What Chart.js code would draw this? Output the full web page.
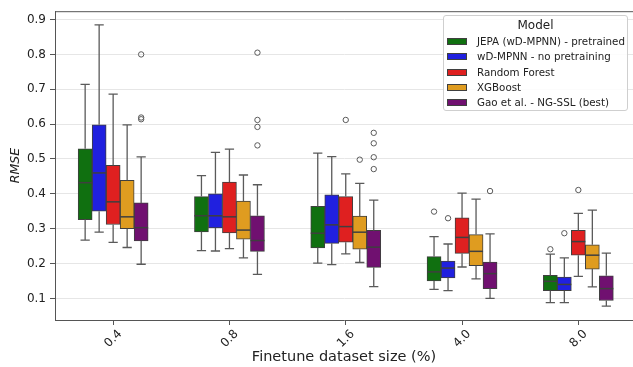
<!DOCTYPE html>
<html>
<head>
<meta charset="utf-8">
<script src="https://cdn.jsdelivr.net/npm/chart.js@4.4.1/dist/chart.umd.min.js"></script>
<style>
  html, body { margin: 0; padding: 0; background: #fff; }
  #wrap { position: relative; width: 633px; height: 367px; overflow: hidden; }
  #legend {
    position: absolute; left: 443px; top: 15px; width: 185px; height: 96px;
    border: 1px solid #cfcfcf; border-radius: 3px; background: rgba(255,255,255,0.85);
    font-family: "DejaVu Sans", sans-serif; color: #222; box-sizing: border-box;
  }
  #legend .ttl { position: absolute; left: 0; width: 100%; top: 2px; text-align: center; font-size: 12px; line-height: 15px; }
  #legend .row { position: absolute; left: 0; width: 100%; height: 15px; font-size: 10.3px; line-height: 15px; white-space: nowrap; }
  #legend .patch { position: absolute; left: 3px; top: 4px; width: 20px; height: 7px; border: 1px solid #3f3f3f; box-sizing: border-box; }
  #legend .txt { position: absolute; left: 33px; top: 0; }
</style>
</head>
<body>
<div id="wrap">
  <canvas id="myChart" width="633" height="367"></canvas>
  <div id="legend"></div>
</div>
<script>
// finetune dataset sizes (%)
const sizes = ["0.4", "0.8", "1.6", "4.0", "8.0"]
const yTicks = [0.1, 0.2, 0.3, 0.4, 0.5, 0.6, 0.7, 0.8, 0.9]

const modelNames = ["JEPA (wD-MPNN) - pretrained", "wD-MPNN - no pretraining", "Random Forest", "XGBoost", "Gao et al. - NG-SSL (best)"]
const modelColors = ["#107010", "#2020df", "#df2020", "#df9c20", "#701070"]

// each row: [whisker low, q1, median, q3, whisker high], one per dataset size
const jepaStats = [
  [0.267, 0.326, 0.432, 0.529, 0.714],
  [0.237, 0.291, 0.337, 0.392, 0.452],
  [0.201, 0.245, 0.287, 0.364, 0.517],
  [0.126, 0.150, 0.176, 0.220, 0.277],
  [0.088, 0.122, 0.149, 0.166, 0.227]
]
const mpnnStats = [
  [0.290, 0.350, 0.460, 0.598, 0.885],
  [0.236, 0.302, 0.337, 0.400, 0.519],
  [0.197, 0.258, 0.311, 0.397, 0.507],
  [0.122, 0.159, 0.187, 0.207, 0.256],
  [0.088, 0.122, 0.140, 0.161, 0.216]
]
const rfStats = [
  [0.261, 0.312, 0.377, 0.482, 0.686],
  [0.243, 0.288, 0.334, 0.434, 0.528],
  [0.228, 0.261, 0.306, 0.392, 0.457],
  [0.190, 0.229, 0.275, 0.331, 0.402],
  [0.163, 0.224, 0.263, 0.295, 0.344]
]
const xgbStats = [
  [0.246, 0.300, 0.334, 0.439, 0.598],
  [0.216, 0.270, 0.296, 0.379, 0.454],
  [0.203, 0.241, 0.290, 0.336, 0.430],
  [0.156, 0.194, 0.235, 0.283, 0.385],
  [0.133, 0.184, 0.224, 0.254, 0.353]
]
const gaoStats = [
  [0.198, 0.265, 0.303, 0.374, 0.506],
  [0.169, 0.235, 0.266, 0.337, 0.426],
  [0.134, 0.189, 0.247, 0.295, 0.382],
  [0.100, 0.128, 0.171, 0.204, 0.285],
  [0.078, 0.094, 0.128, 0.165, 0.230]
]

// outliers per dataset size
const jepaOut = [[], [], [], [0.349], [0.241]]
const mpnnOut = [[], [], [], [0.330], [0.287]]
const rfOut = [[], [], [0.612], [], [0.411]]
const xgbOut = [[], [], [0.498], [], []]
const gaoOut = [[0.800, 0.619, 0.614], [0.805, 0.612, 0.592, 0.539], [0.575, 0.545, 0.505, 0.471], [0.408], []]

const allStats = [jepaStats, mpnnStats, rfStats, xgbStats, gaoStats]
const allOut = [jepaOut, mpnnOut, rfOut, xgbOut, gaoOut]

const edgeColor = "#3f3f3f"
const whiskerColor = "#5a5a5a"

// whiskers, medians and fliers on top of the floating bars
const boxExtras = {
  id: "boxExtras",
  afterDatasetsDraw(chart) {
    const ctx = chart.ctx
    const yScale = chart.scales.y
    ctx.save()
    allStats.forEach((stats, d) => {
      const meta = chart.getDatasetMeta(d)
      meta.data.forEach((bar, i) => {
        const s = stats[i]
        const x = bar.x
        const w = bar.width
        const yLo = yScale.getPixelForValue(s[0])
        const yQ1 = yScale.getPixelForValue(s[1])
        const yMed = yScale.getPixelForValue(s[2])
        const yQ3 = yScale.getPixelForValue(s[3])
        const yHi = yScale.getPixelForValue(s[4])
        ctx.strokeStyle = whiskerColor
        ctx.lineWidth = 1.3
        ctx.beginPath()
        ctx.moveTo(x, yQ3); ctx.lineTo(x, yHi)
        ctx.moveTo(x, yQ1); ctx.lineTo(x, yLo)
        ctx.moveTo(x - w * 0.33, yHi); ctx.lineTo(x + w * 0.33, yHi)
        ctx.moveTo(x - w * 0.33, yLo); ctx.lineTo(x + w * 0.33, yLo)
        ctx.stroke()
        ctx.strokeStyle = edgeColor
        ctx.lineWidth = 1.5
        ctx.beginPath()
        ctx.moveTo(x - w / 2, yMed); ctx.lineTo(x + w / 2, yMed)
        ctx.stroke()
        ctx.strokeStyle = whiskerColor
        ctx.lineWidth = 1
        allOut[d][i].forEach(v => {
          ctx.beginPath()
          ctx.arc(x, yScale.getPixelForValue(v), 2.7, 0, Math.PI * 2)
          ctx.stroke()
        })
      })
    })
    // top frame line
    const a = chart.chartArea
    ctx.strokeStyle = "#555"
    ctx.lineWidth = 1
    ctx.beginPath()
    ctx.moveTo(a.left, a.top + 0.5); ctx.lineTo(a.right, a.top + 0.5)
    ctx.stroke()
    ctx.restore()
  }
}

const datasets = modelNames.map((name, d) => ({
  label: name,
  data: allStats[d].map((s, i) => ({ x: i, y: [s[1], s[3]] })),
  backgroundColor: modelColors[d],
  borderColor: edgeColor,
  borderWidth: 1,
  borderSkipped: false,
  barThickness: 14
}))

const myChart = new Chart(document.getElementById("myChart"), {
  type: "bar",
  data: { datasets: datasets },
  options: {
    responsive: false,
    animation: false,
    layout: { padding: { top: 10, left: 0, right: 0, bottom: 0 } },
    plugins: { legend: { display: false }, tooltip: { enabled: false } },
    scales: {
      x: {
        type: "linear",
        offset: false,
        min: -0.5,
        max: 4.47,
        afterBuildTicks: (scale) => { scale.ticks = sizes.map((s, i) => ({ value: i })) },
        afterFit: (scale) => { scale.height = 47 },
        grid: { offset: false, drawOnChartArea: false, drawTicks: true, tickLength: 5, tickColor: "#555" },
        border: { display: true, color: "#555", width: 1 },
        ticks: {
          callback: (v) => sizes[v],
          minRotation: 45, maxRotation: 45,
          labelOffset: 7, padding: 2,
          color: "#222",
          font: { family: "DejaVu Sans", size: 12 }
        },
        title: {
          display: true, text: "Finetune dataset size (%)", color: "#222",
          font: { family: "DejaVu Sans", size: 14.5 },
          padding: { top: 0, bottom: 1 }
        }
      },
      y: {
        min: 0.038,
        max: 0.924,
        afterBuildTicks: (scale) => { scale.ticks = yTicks.map(v => ({ value: v })) },
        afterFit: (scale) => { scale.width = 55 },
        grid: { color: "#e6e6e6", lineWidth: 1, drawTicks: true, tickLength: 5, tickColor: "#555" },
        border: { display: true, color: "#555", width: 1 },
        ticks: {
          callback: (v) => v.toFixed(1),
          padding: 4,
          color: "#222",
          font: { family: "DejaVu Sans", size: 12 }
        },
        title: {
          display: true, text: "RMSE", color: "#222",
          font: { family: "DejaVu Sans", size: 12.5, style: "italic" },
          padding: { top: 8, bottom: 0 }
        }
      }
    }
  },
  plugins: [boxExtras]
})

// legend box
const legend = document.getElementById("legend")
const ttl = document.createElement("div")
ttl.setAttribute("class", "ttl")
ttl.innerHTML = "Model"
legend.appendChild(ttl)
modelNames.forEach((name, d) => {
  const row = document.createElement("div")
  row.setAttribute("class", "row")
  row.style.top = (18 + d * 15.25) + "px"
  const patch = document.createElement("span")
  patch.setAttribute("class", "patch")
  patch.style.background = modelColors[d]
  const txt = document.createElement("span")
  txt.setAttribute("class", "txt")
  txt.textContent = name
  row.appendChild(patch)
  row.appendChild(txt)
  legend.appendChild(row)
})
</script>
</body>
</html>
